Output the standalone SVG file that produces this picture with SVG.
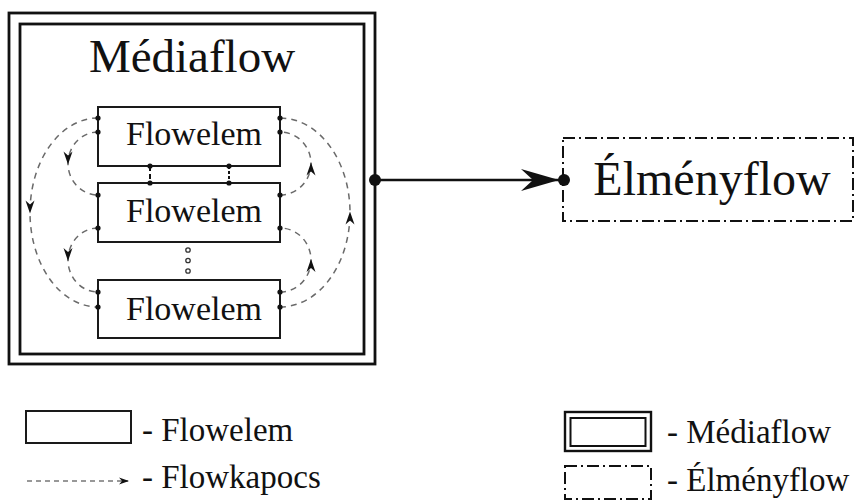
<svg xmlns="http://www.w3.org/2000/svg" width="860" height="501" viewBox="0 0 860 501" font-family="'Liberation Serif', 'Times New Roman', Tinos, 'DejaVu Serif', 'Noto Serif', serif">
<style>
text{font-family:"Liberation Serif","Times New Roman",Tinos,"DejaVu Serif","Noto Serif",serif;fill:#111}
.box{fill:none;stroke:#1a1a1a;stroke-width:2}
.dbl{fill:none;stroke:#111;stroke-width:2.8}
.dash{fill:none;stroke:#6a6a6a;stroke-width:1.5;stroke-dasharray:6 5;marker-mid:url(#sa)}
.dd{fill:none;stroke:#111;stroke-width:2;stroke-dasharray:12 4 2 4}
.pt{fill:#111}
</style>
<defs>
<marker id="sa" markerUnits="userSpaceOnUse" viewBox="-13 -6 14 12" refX="0" refY="0" markerWidth="14" markerHeight="12" orient="auto">
<path d="M1,0 L-12,-4.5 L-8,0 L-12,4.5 Z" fill="#111"/>
</marker>
<marker id="big" markerUnits="userSpaceOnUse" viewBox="-40 -12 42 24" refX="0" refY="0" markerWidth="42" markerHeight="24" orient="auto">
<path d="M0,0 L-38,-11 L-26,0 L-38,11 Z" fill="#111"/>
</marker>
<marker id="la" markerUnits="userSpaceOnUse" viewBox="-11 -5 12 10" refX="0" refY="0" markerWidth="12" markerHeight="10" orient="auto">
<path d="M1,0 L-9,-3.5 L-6,0 L-9,3.5 Z" fill="#111"/>
</marker>
</defs>

<g id="mediaflow">
<rect class="dbl" x="9" y="13" width="366" height="351"/>
<rect class="dbl" x="20" y="24" width="344" height="330"/>
<text x="192" y="72" font-size="47" text-anchor="middle">Médiaflow</text>
</g>

<g id="flowelem1">
<rect class="box" x="98" y="107" width="182" height="59"/>
<text x="194" y="145" font-size="34" text-anchor="middle">Flowelem</text>
</g>
<g id="flowelem2">
<rect class="box" x="98" y="183" width="182" height="59"/>
<text x="194" y="222" font-size="34" text-anchor="middle">Flowelem</text>
</g>
<g id="flowelem3">
<rect class="box" x="98" y="280" width="182" height="58"/>
<text x="194" y="320" font-size="34" text-anchor="middle">Flowelem</text>
</g>

<g id="elmenyflow">
<rect class="dd" x="563" y="138" width="290" height="83"/>
<text x="712" y="195" font-size="48" text-anchor="middle">Élményflow</text>
</g>

<g id="connectors">
<path class="dash" d="M98,118 A68,94.5 0 0 0 30,212.5 A68,94.5 0 0 0 98,307"/>
<path class="dash" d="M98,132 A30,31.5 0 0 0 68,163.5 A30,31.5 0 0 0 98,195"/>
<path class="dash" d="M98,228 A30,32 0 0 0 68,260 A30,32 0 0 0 98,292"/>
<path class="dash" d="M280,307 A70,94.5 0 0 0 350,212.5 A70,94.5 0 0 0 280,118"/>
<path class="dash" d="M280,195 A31,31.5 0 0 0 311,163.5 A31,31.5 0 0 0 280,132"/>
<path class="dash" d="M280,292 A31,32 0 0 0 311,260 A31,32 0 0 0 280,228"/>
<line x1="150" y1="166" x2="150" y2="183" stroke="#111" stroke-width="2" stroke-dasharray="5 3"/>
<line x1="229" y1="166" x2="229" y2="183" stroke="#111" stroke-width="2" stroke-dasharray="3 2"/>
<line x1="375" y1="180" x2="559" y2="180" stroke="#111" stroke-width="2.6" marker-end="url(#big)"/>
<g class="pt">
<circle cx="98" cy="118" r="2.6"/><circle cx="98" cy="132" r="2.6"/>
<circle cx="280" cy="118" r="2.6"/><circle cx="280" cy="132" r="2.6"/>
<circle cx="98" cy="195" r="2.6"/><circle cx="98" cy="228" r="2.6"/>
<circle cx="280" cy="195" r="2.6"/><circle cx="280" cy="228" r="2.6"/>
<circle cx="98" cy="292" r="2.6"/><circle cx="98" cy="307" r="2.6"/>
<circle cx="280" cy="292" r="2.6"/><circle cx="280" cy="307" r="2.6"/>
<circle cx="150" cy="166" r="2.6"/><circle cx="150" cy="183" r="2.6"/>
<circle cx="229" cy="166" r="2.6"/><circle cx="229" cy="183" r="2.6"/>
<circle cx="375" cy="180" r="6"/>
<circle cx="564" cy="180" r="6"/>
</g>
<g fill="none" stroke="#333" stroke-width="1.3">
<circle cx="188" cy="250" r="2.2"/><circle cx="188" cy="260.5" r="2.2"/><circle cx="188" cy="271" r="2.2"/>
</g>
</g>

<g id="legend">
<rect class="box" x="26" y="411" width="105" height="32"/>
<text x="142" y="441" font-size="33">- Flowelem</text>
<line x1="27" y1="481" x2="128" y2="481" stroke="#777" stroke-width="1.4" stroke-dasharray="5 4" marker-end="url(#la)"/>
<text x="142" y="488" font-size="33">- Flowkapocs</text>
<rect x="565" y="412" width="86" height="39" fill="none" stroke="#111" stroke-width="2.4"/>
<rect x="570.5" y="418" width="75" height="28" fill="none" stroke="#111" stroke-width="2"/>
<text x="667" y="443" font-size="33">- Médiaflow</text>
<rect class="dd" x="565" y="466" width="86" height="33"/>
<text x="667" y="491" font-size="33">- Élményflow</text>
</g>
</svg>
